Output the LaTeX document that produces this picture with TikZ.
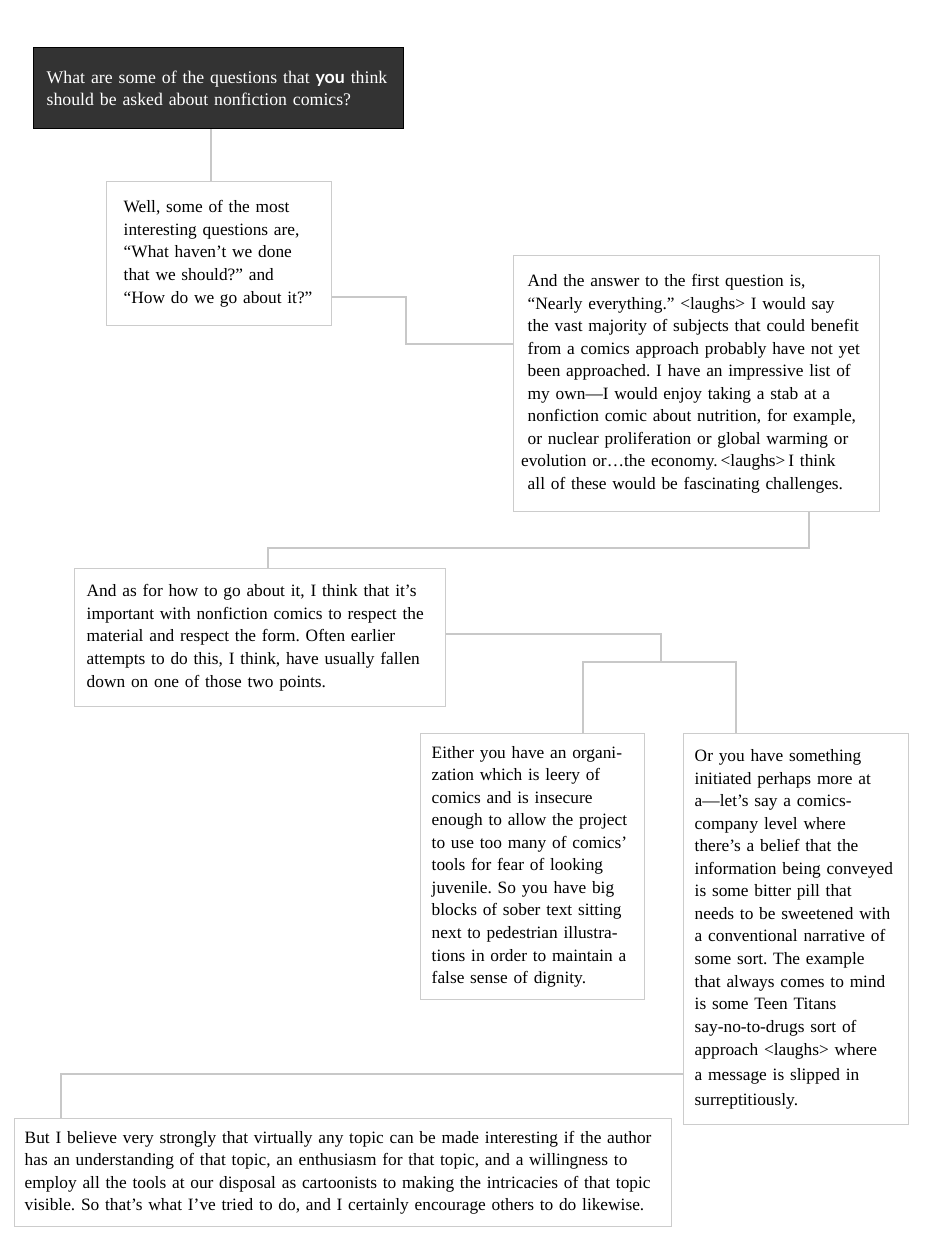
\documentclass[tikz,border=0pt]{standalone}
\usepackage{fontspec}
\setmainfont{Liberation Serif}
\newfontfamily\yousans{Lato}
\usepackage{xcolor}
\usepackage{tikz}
\usetikzlibrary{positioning}

\definecolor{boxgray}{HTML}{CCCCCC}
\definecolor{linkgray}{HTML}{C8C8C8}
\definecolor{darkbox}{HTML}{333333}
\newcommand{\bodyfont}{\frenchspacing\fontsize{13}{16.9}\selectfont}

\begin{document}
\begin{tikzpicture}[
  x=0.75pt, y=-0.75pt,
  box/.style={draw=boxgray, line width=1.1pt, anchor=north west, align=left,
              inner ysep=0pt, font=\bodyfont},
  qbox/.style={box, draw=black, fill=darkbox, text=white,
               font=\frenchspacing\fontsize{13.3}{17}\selectfont},
  link/.style={draw=linkgray, line width=1.1pt},
]
\useasboundingbox (0,0) rectangle (937,1250);

% question
\node[qbox, text width=258pt, inner xsep=9.75pt, minimum height=60.75pt] (q) at (33,47)
  {What are some of the questions that {\yousans\bfseries you} think\\
   should be asked about nonfiction comics?};

% answers
\node[box, text width=143.25pt, inner xsep=12.75pt, minimum height=108pt] (a1) at (106,181)
  {Well, some of the most\\
   interesting questions are,\\
   “What haven’t we done\\
   that we should?” and\\
   “How do we go about it?”};

\node[box, text width=253.5pt, inner xsep=10.5pt, minimum height=192pt] (a2) at (513,255)
  {And the answer to the first question is,\\
   “Nearly everything.” <laughs> I would say\\
   the vast majority of subjects that could benefit\\
   from a comics approach probably have not yet\\
   been approached. I have an impressive list of\\
   my own—I would enjoy taking a stab at a\\
   nonfiction comic about nutrition, for example,\\
   or nuclear proliferation or global warming or\\
   \hspace*{-5pt}evolution or\ldots the economy.\,<laughs>\,I think\\
   all of these would be fascinating challenges.};

\node[box, text width=260.25pt, inner xsep=9pt, minimum height=103.5pt] (a3) at (74,568)
  {And as for how to go about it, I think that it’s\\
   important with nonfiction comics to respect the\\
   material and respect the form. Often earlier\\
   attempts to do this, I think, have usually fallen\\
   down on one of those two points.};

\node[box, text width=151.5pt, inner xsep=8.25pt, minimum height=199.5pt] (a4) at (420,733)
  {Either you have an organi-\\
   zation which is leery of\\
   comics and is insecure\\
   enough to allow the project\\
   to use too many of comics’\\
   tools for fear of looking\\
   juvenile. So you have big\\
   blocks of sober text sitting\\
   next to pedestrian illustra-\\
   tions in order to maintain a\\
   false sense of dignity.};

\node[box, text width=152.25pt, inner xsep=8.25pt, minimum height=293.25pt] (a5) at (683,733)
  {Or you have something\\
   initiated perhaps more at\\
   a—let’s say a comics-\\
   company level where\\
   there’s a belief that the\\
   information being conveyed\\
   is some bitter pill that\\
   needs to be sweetened with\\
   a conventional narrative of\\
   some sort. The example\\
   that always comes to mind\\
   is some Teen Titans\\
   say-no-to-drugs sort of\\[1pt]
   approach <laughs> where\\[1.5pt]
   a message is slipped in\\[1.5pt]
   surreptitiously.};

\node[box, text width=477.75pt, inner xsep=7.5pt, minimum height=81pt] (a6) at (14,1118)
  {But I believe very strongly that virtually any topic can be made interesting if the author\\
   has an understanding of that topic, an enthusiasm for that topic, and a willingness to\\
   employ all the tools at our disposal as cartoonists to making the intricacies of that topic\\
   visible. So that’s what I’ve tried to do, and I certainly encourage others to do likewise.};

% connectors
\coordinate (t1) at (211,128);
\draw[link] (q.south -| t1) -- (a1.north -| t1);

\coordinate (t2) at (406,297);
\coordinate (t3) at (406,344);
\draw[link] (a1.east |- t2) -- (t2) -- (t3) -- (a2.west |- t3);

\coordinate (t4) at (809,548);
\coordinate (t5) at (268,548);
\draw[link] (a2.south -| t4) -- (t4) -- (t5) -- (a3.north -| t5);

\coordinate (t6) at (661,634);
\coordinate (t7) at (661,662);
\coordinate (t8) at (583,662);
\coordinate (t9) at (736,662);
\draw[link] (a3.east |- t6) -- (t6) -- (t7);
\draw[link] (a4.north -| t8) -- (t8) -- (t9) -- (a5.north -| t9);

\coordinate (t10) at (61,1074);
\draw[link] (a5.west |- t10) -- (t10) -- (a6.north -| t10);
\end{tikzpicture}
\end{document}
